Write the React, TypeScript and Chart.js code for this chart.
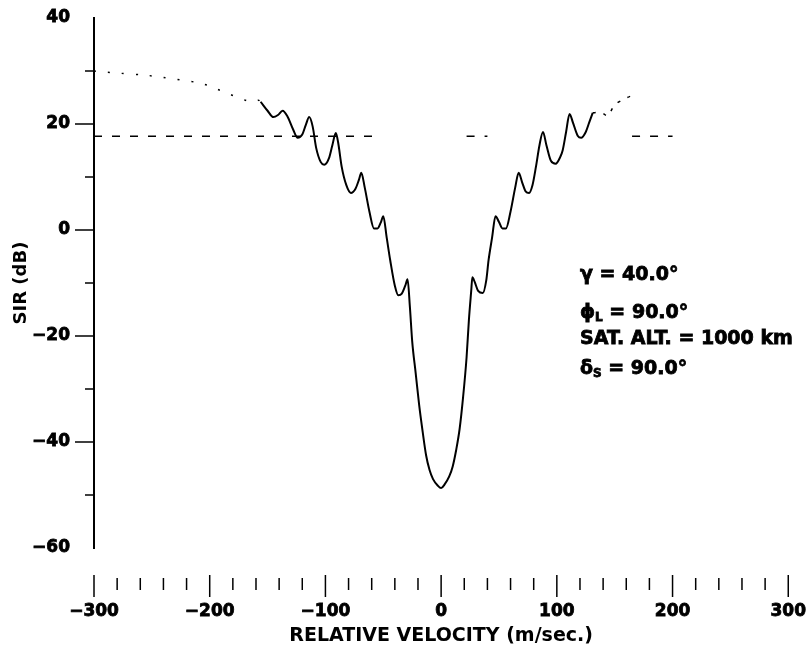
import React, { useEffect, useRef } from "react";
import { Chart, registerables } from "chart.js";

Chart.register(...registerables);

// Main SIR curve (solid)
const solidVel = [-156, -150, -145, -141, -137, -133, -128, -124, -120, -117, -114, -111, -108, -104, -101, -97, -94, -91, -89, -86, -82, -78, -74, -71, -69, -66, -62, -58, -55, -52, -50, -47, -44, -40, -37, -34, -31, -29, -27, -25, -22, -19, -16, -13, -10, -7, -3, 0, 3, 7, 10, 13, 16, 19, 22, 24, 26, 27, 29, 32, 36, 39, 41, 44, 47, 50, 53, 56, 60, 64, 67, 70, 73, 76, 79, 82, 85, 88, 91, 95, 99, 103, 105, 108, 111, 114, 118, 121, 125, 128, 131];
const solidSIR = [24.2, 22.5, 21.3, 21.7, 22.5, 21.5, 19.0, 17.4, 18.0, 19.8, 21.3, 19.5, 15.5, 12.8, 12.3, 13.5, 16.0, 18.3, 16.5, 12.0, 8.5, 7.0, 7.8, 9.5, 10.8, 8.0, 3.5, 0.3, 0.3, 1.5, 2.6, -1.5, -5.7, -10.5, -12.3, -12.0, -10.5, -9.3, -14.5, -21, -27, -33, -38, -42.5, -45.3, -47, -48.2, -48.7, -48, -46.5, -44.6, -41.5, -37.5, -31.5, -24, -17, -11.5, -8.9, -9.8, -11.5, -11.9, -9.5, -5.7, -1.5, 2.6, 1.5, 0.3, 0.3, 3.5, 8.0, 10.8, 9.0, 7.3, 7.0, 8.5, 12, 16, 18.5, 16.0, 13.0, 12.5, 13.8, 15, 18.5, 21.9, 20.2, 17.8, 17.4, 18.5, 20.3, 22.1];

// Dotted extensions
const leftDotVel = [-300, -290, -279, -255, -241, -208, -195, -165, -158, -156];
const leftDotSIR = [30, 29.8, 29.6, 29.2, 28.8, 27.7, 26.7, 24.2, 24.5, 24.2];
const rightDotVel = [131, 136, 140, 144, 150, 160, 169];
const rightDotSIR = [22.1, 22.2, 22.0, 21.5, 23.6, 24.9, 25.7];

// Dashed reference level (broken segments)
const refVel = [-300, -55, null, 22, 40, null, 165, 200];
const refSIR = [17.7, 17.7, null, 17.7, 17.7, null, 17.7, 17.7];

// Axis ticks
const xTicks = [-300, -200, -100, 0, 100, 200, 300];
const yTicks = [-60, -40, -20, 0, 20, 40];

// Annotation text
const annotLines = [
  { main: "\u03b3 = 40.0\u00b0", sub: "", rest: "" },
  { main: "\u03d5", sub: "L", rest: " = 90.0\u00b0" },
  { main: "SAT. ALT. = 1000 km", sub: "", rest: "" },
  { main: "\u03b4", sub: "S", rest: " = 90.0\u00b0" },
];
const annotX = 120;
const annotY = [-8.5, -15.6, -20.6, -26.2];

const FONT = "'DejaVu Sans', 'Liberation Sans', Arial, sans-serif";
const fmt = (v: number) => (v < 0 ? "\u2212" + Math.abs(v) : String(v));

const pts = (xs: (number | null)[], ys: (number | null)[]) =>
  xs.map((x, i) => ({ x: x as any, y: ys[i] as any }));

const tickPlugin = {
  id: "customTicks",
  afterDraw(chart: any) {
    const { ctx, chartArea, scales } = chart;
    const xs = scales.x;
    const ys = scales.y;
    ctx.save();
    ctx.strokeStyle = "#000";
    ctx.lineWidth = 1.5;
    // y ticks
    for (let v = -50; v <= 30; v += 10) {
      const py = ys.getPixelForValue(v);
      const major = v % 20 === 0;
      ctx.beginPath();
      ctx.moveTo(chartArea.left - (major ? 19 : 9), py);
      ctx.lineTo(chartArea.left, py);
      ctx.stroke();
    }
    // x ticks
    for (let v = -300; v <= 300; v += 20) {
      const px = xs.getPixelForValue(v);
      const major = v % 100 === 0;
      ctx.beginPath();
      ctx.moveTo(px, chartArea.bottom + (major ? 27 : 30));
      ctx.lineTo(px, chartArea.bottom + (major ? 49 : 42));
      ctx.stroke();
    }
    // annotation
    ctx.fillStyle = "#000";
    ctx.lineWidth = 0.8;
    ctx.textBaseline = "middle";
    ctx.textAlign = "left";
    const put = (t: string, x: number, y: number) => {
      ctx.fillText(t, x, y);
      ctx.strokeText(t, x, y);
    };
    annotLines.forEach((l, i) => {
      let x = xs.getPixelForValue(annotX);
      const y = ys.getPixelForValue(annotY[i]);
      ctx.font = `bold 19px ${FONT}`;
      put(l.main, x, y);
      x += ctx.measureText(l.main).width;
      if (l.sub) {
        ctx.font = `bold 12px ${FONT}`;
        put(l.sub, x, y + 5);
        x += ctx.measureText(l.sub).width;
        ctx.font = `bold 19px ${FONT}`;
        put(l.rest, x, y);
      }
    });
    ctx.restore();
  },
};

export default function App() {
  const ref = useRef<HTMLCanvasElement>(null);
  useEffect(() => {
    const chart = new Chart(ref.current as HTMLCanvasElement, {
      type: "line",
      data: {
        datasets: [
          {
            data: pts(solidVel, solidSIR),
            borderColor: "#000",
            borderWidth: 2,
            pointRadius: 0,
            cubicInterpolationMode: "monotone",
          },
          {
            data: pts(leftDotVel, leftDotSIR),
            borderColor: "#000",
            borderWidth: 1.5,
            borderDash: [2, 12],
            pointRadius: 0,
            tension: 0.3,
          },
          {
            data: pts(rightDotVel, rightDotSIR),
            borderColor: "#000",
            borderWidth: 1.5,
            borderDash: [3, 8],
            pointRadius: 0,
            tension: 0.3,
          },
          {
            data: pts(refVel, refSIR),
            borderColor: "#000",
            borderWidth: 1.5,
            borderDash: [8, 10],
            pointRadius: 0,
            spanGaps: false,
          },
        ],
      },
      options: {
        animation: false,
        responsive: true,
        maintainAspectRatio: false,
        layout: { padding: { top: 18, right: 22, left: 0, bottom: 0 } },
        plugins: { legend: { display: false }, tooltip: { enabled: false } },
        scales: {
          x: {
            type: "linear",
            min: -300,
            max: 300,
            afterBuildTicks: (s: any) => {
              s.ticks = xTicks.map((v) => ({ value: v }));
            },
            afterFit: (s: any) => {
              s.height = 101;
            },
            ticks: {
              color: "#000",
              font: { family: FONT, size: 17, weight: "bold" },
              textStrokeColor: "#000",
              textStrokeWidth: 0.8,
              padding: 5,
              maxRotation: 0,
              callback: (v: any) => fmt(Number(v)),
            },
            grid: { drawOnChartArea: false, tickColor: "transparent", tickLength: 48 },
            border: { display: false },
            title: {
              display: true,
              text: "RELATIVE VELOCITY (m/sec.)",
              color: "#000",
              font: { family: FONT, size: 19, weight: "bold" },
              padding: { top: 0, bottom: 2 },
            },
          },
          y: {
            type: "linear",
            min: -60,
            max: 40,
            afterBuildTicks: (s: any) => {
              s.ticks = yTicks.map((v) => ({ value: v }));
            },
            afterFit: (s: any) => {
              s.width = 94;
            },
            ticks: {
              color: "#000",
              font: { family: FONT, size: 17, weight: "bold" },
              textStrokeColor: "#000",
              textStrokeWidth: 0.8,
              padding: 6,
              callback: (v: any) => fmt(Number(v)),
            },
            grid: { drawOnChartArea: false, tickColor: "transparent", tickLength: 18 },
            border: { display: true, color: "#000", width: 2 },
            title: {
              display: true,
              text: "SIR (dB)",
              color: "#000",
              font: { family: FONT, size: 18, weight: "bold" },
              padding: { top: 11, bottom: 0 },
            },
          },
        },
      },
      plugins: [tickPlugin],
    } as any);
    return () => chart.destroy();
  }, []);
  return (
    <div style={{ position: "fixed", left: 0, top: 0, width: 811, height: 649, background: "#fff" }}>
      <canvas ref={ref} />
    </div>
  );
}
